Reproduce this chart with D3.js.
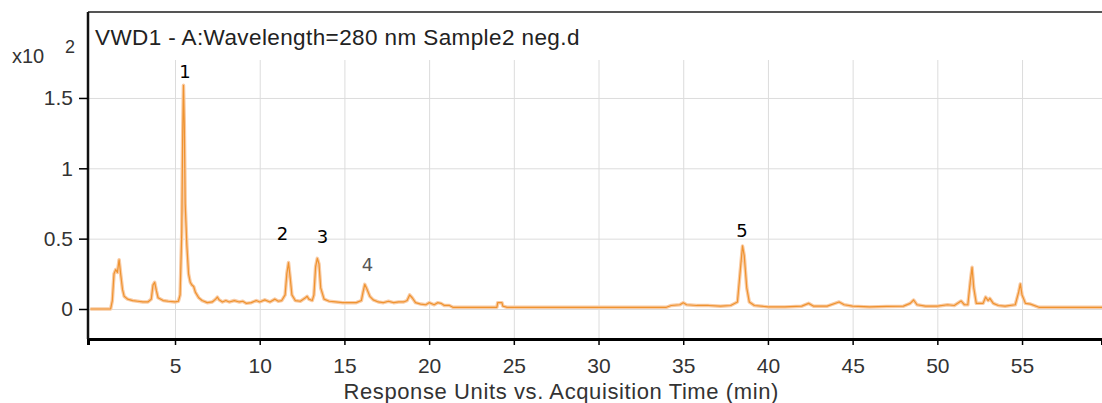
<!DOCTYPE html>
<html>
<head>
<meta charset="utf-8">
<script src="https://cdn.jsdelivr.net/npm/d3@7"></script>
<style>
  body { margin: 0; background: #fff; }
  .fig text { font-family: "Liberation Sans", Arial, sans-serif; }
  .grid line { stroke: #dcdcdc; stroke-width: 1; }
  .grid path { display: none; }
  .ejes text { fill: #333; font-size: 21px; }
</style>
</head>
<body>
<div id="graf"></div>
<script>
// retention time (min) and response (x10^2)
const tiempo = [0, 1.2, 1.3, 1.4, 1.5, 1.6, 1.7, 1.8, 1.9, 2.0, 2.2, 2.5, 2.8, 3.1, 3.4, 3.6, 3.7, 3.8, 3.9, 4.0,
  4.3, 4.6, 5.0, 5.2, 5.3, 5.4, 5.45, 5.5, 5.55, 5.6, 5.7, 5.8, 5.9, 6.0, 6.1, 6.2, 6.4, 6.6, 6.9, 7.2,
  7.4, 7.5, 7.6, 7.8, 8.0, 8.2, 8.5, 8.8, 9.0, 9.2, 9.5, 9.8, 10.0, 10.3, 10.6, 10.9, 11.1, 11.3, 11.5, 11.6,
  11.7, 11.8, 11.9, 12.1, 12.4, 12.7, 12.8, 12.9, 13.1, 13.2, 13.3, 13.4, 13.5, 13.6, 13.8, 14.1, 14.5, 14.9, 15.3, 15.7,
  16.0, 16.1, 16.2, 16.3, 16.5, 16.7, 17.0, 17.3, 17.6, 17.9, 18.2, 18.5, 18.7, 18.85, 19.0, 19.2, 19.5, 19.8, 20.0, 20.3,
  20.5, 20.7, 20.9, 21.2, 21.4, 24.0, 24.05, 24.3, 24.35, 24.6, 34.0, 34.3, 34.8, 35.0, 35.2, 35.8, 36.5, 37.2, 37.8, 38.2,
  38.35, 38.5, 38.6, 38.75, 38.9, 39.2, 40, 41, 42, 42.4, 42.7, 43.5, 44.2, 44.5, 45.0, 46.0, 47.0, 48.0, 48.4, 48.6,
  48.8, 49.3, 50.0, 50.6, 51.0, 51.4, 51.6, 51.8, 51.95, 52.05, 52.15, 52.3, 52.7, 52.85, 53.0, 53.1, 53.3, 53.6, 54.0, 54.6,
  54.8, 54.9, 55.0, 55.2, 55.5, 56.0, 59.8]
const respuesta = [0, 0, 0.06, 0.25, 0.28, 0.26, 0.35, 0.24, 0.14, 0.09, 0.07, 0.06, 0.055, 0.05, 0.05, 0.07, 0.17, 0.19, 0.13, 0.08,
  0.06, 0.055, 0.05, 0.055, 0.1, 0.55, 1.2, 1.59, 1.3, 0.75, 0.45, 0.25, 0.19, 0.17, 0.16, 0.12, 0.08, 0.06, 0.045, 0.05,
  0.07, 0.085, 0.065, 0.05, 0.06, 0.05, 0.06, 0.05, 0.055, 0.04, 0.045, 0.06, 0.05, 0.065, 0.05, 0.07, 0.055, 0.06, 0.1, 0.25,
  0.33, 0.22, 0.1, 0.06, 0.055, 0.08, 0.09, 0.07, 0.06, 0.1, 0.3, 0.36, 0.32, 0.15, 0.07, 0.055, 0.05, 0.045, 0.045, 0.045,
  0.06, 0.12, 0.175, 0.15, 0.09, 0.065, 0.05, 0.045, 0.055, 0.045, 0.05, 0.05, 0.06, 0.1, 0.08, 0.045, 0.035, 0.03, 0.045, 0.03,
  0.045, 0.04, 0.025, 0.025, 0.012, 0.012, 0.045, 0.045, 0.02, 0.012, 0.012, 0.025, 0.03, 0.045, 0.03, 0.025, 0.025, 0.02, 0.025, 0.05,
  0.25, 0.448, 0.38, 0.15, 0.05, 0.025, 0.015, 0.015, 0.02, 0.04, 0.02, 0.02, 0.05, 0.03, 0.02, 0.015, 0.018, 0.02, 0.04, 0.064,
  0.03, 0.02, 0.02, 0.03, 0.025, 0.057, 0.03, 0.03, 0.2, 0.296, 0.15, 0.04, 0.04, 0.085, 0.06, 0.075, 0.04, 0.025, 0.02, 0.03,
  0.12, 0.178, 0.1, 0.04, 0.035, 0.012, 0.012]

const xTicks = [5, 10, 15, 20, 25, 30, 35, 40, 45, 50, 55]
const yTicks = [0, 0.5, 1, 1.5]
// peak labels, placed in data units
const picos = [
  { label: "1", t: 5.59, v: 1.642, color: "#000" },
  { label: "2", t: 11.35, v: 0.49, color: "#000" },
  { label: "3", t: 13.71, v: 0.469, color: "#000" },
  { label: "4", t: 16.36, v: 0.27, color: "#555" },
  { label: "5", t: 38.47, v: 0.512, color: "#000" }
]
const titulo = "VWD1 - A:Wavelength=280 nm Sample2 neg.d"
const ejeX = "Response Units vs. Acquisition Time (min)"

const data = tiempo.map((t, i) => ({ t, v: respuesta[i] }))

const anchoTotal = 1102
const altoTotal = 403
const margins = { left: 88, top: 12, right: 0, bottom: 64 }
const ancho = anchoTotal - margins.left - margins.right
const alto = altoTotal - margins.top - margins.bottom

const svg = d3.select("#graf")
  .append("svg")
  .attr("width", anchoTotal)
  .attr("height", altoTotal)
  .attr("class", "fig")

const g = svg.append("g")
  .attr("transform", `translate(${margins.left}, ${margins.top})`)

const x = d3.scaleLinear().domain([-0.136, 59.72]).range([0, ancho])
const y = d3.scaleLinear().domain([-0.2133, 2.111]).range([alto, 0])

// grids
g.append("g")
  .attr("class", "grid")
  .attr("transform", `translate(0, ${alto})`)
  .call(d3.axisBottom(x).tickValues(xTicks).tickSize(-(alto - 48)).tickFormat(""))
g.append("g")
  .attr("class", "grid")
  .call(d3.axisLeft(y).tickValues(yTicks).tickSize(-ancho).tickFormat(""))

// trace
const linea = d3.line().x((d) => x(d.t)).y((d) => y(d.v))
g.append("path").datum(data)
  .attr("d", linea)
  .attr("fill", "none")
  .attr("stroke", "#f9cba4")
  .attr("stroke-width", 3.5)
  .attr("stroke-linejoin", "round")
g.append("path").datum(data)
  .attr("d", linea)
  .attr("fill", "none")
  .attr("stroke", "#ef932f")
  .attr("stroke-width", 1.2)
  .attr("stroke-linejoin", "round")

// frame
g.append("line").attr("x1", 0).attr("x2", ancho).attr("y1", 0).attr("y2", 0)
  .attr("stroke", "#555").attr("stroke-width", 2)

const ax = g.append("g")
  .attr("class", "ejes")
  .attr("transform", `translate(0, ${alto})`)
  .call(d3.axisBottom(x).tickValues(xTicks).tickSize(6).tickPadding(13))
ax.select(".domain").attr("stroke", "#000").attr("stroke-width", 3)
ax.selectAll(".tick line").attr("stroke", "#000").attr("stroke-width", 1.5)

const ay = g.append("g")
  .attr("class", "ejes")
  .call(d3.axisLeft(y).tickValues(yTicks).tickSize(9).tickPadding(6).tickFormat(d3.format("")))
ay.select(".domain").attr("d", `M0,0V${alto}`).attr("stroke", "#111").attr("stroke-width", 2.5)
ay.selectAll(".tick line").attr("stroke", "#000").attr("stroke-width", 1.5)

// texts
g.append("text")
  .attr("x", 7).attr("y", 33)
  .attr("font-size", 22.5)
  .attr("letter-spacing", 0.4)
  .attr("fill", "#222")
  .text(titulo)

svg.append("text").attr("x", 12).attr("y", 63).attr("font-size", 20).attr("fill", "#333").text("x10")
svg.append("text").attr("x", 65).attr("y", 53).attr("font-size", 18).attr("fill", "#333").text("2")

g.append("text")
  .attr("x", x(27.8)).attr("y", alto + 60)
  .attr("text-anchor", "middle")
  .attr("font-size", 22)
  .attr("letter-spacing", 0.6)
  .attr("fill", "#333")
  .text(ejeX)

g.selectAll(".pico").data(picos)
  .enter().append("text")
  .attr("class", "pico")
  .attr("x", (d) => x(d.t))
  .attr("y", (d) => y(d.v))
  .attr("text-anchor", "middle")
  .attr("font-size", 18)
  .style("font-family", "'DejaVu Sans', sans-serif")
  .attr("fill", (d) => d.color)
  .text((d) => d.label)
</script>
</body>
</html>
